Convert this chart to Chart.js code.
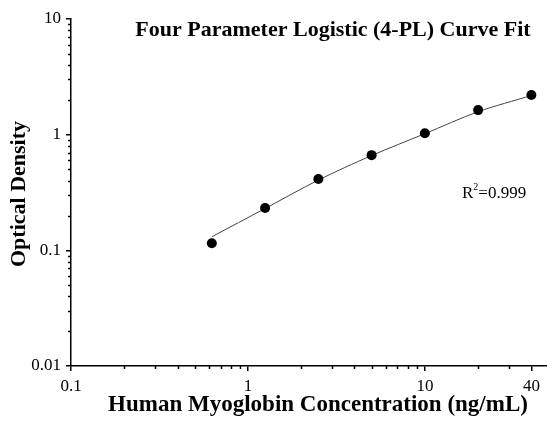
<!DOCTYPE html>
<html>
<head>
<meta charset="utf-8">
<script src="https://cdn.jsdelivr.net/npm/chart.js@4/dist/chart.umd.min.js"></script>
<style>
html,body{margin:0;padding:0;background:#fff;}
#wrap{width:547px;height:430px;}
</style>
</head>
<body>
<div id="wrap"><canvas id="c" width="547" height="430"></canvas></div>
<script>
// ---- data ----
const concentrations = [0.625, 1.25, 2.5, 5, 10, 20, 40];
const odValues = [0.115, 0.232, 0.414, 0.665, 1.03, 1.63, 2.20];
const curveX = [0.625, 1.25, 2.5, 5, 10, 20, 40];
const curveY = [0.131, 0.230, 0.405, 0.660, 1.02, 1.58, 2.18];
const xTickValues = [0.1, 1, 10, 40];
const xTickLabels = ['0.1', '1', '10', '40'];
const yTickValues = [0.01, 0.1, 1, 10];
const yTickLabels = ['0.01', '0.1', '1', '10'];
const xMinorTicks = [0.2,0.3,0.4,0.5,0.6,0.7,0.8,0.9,2,3,4,5,6,7,8,9,20,30,50];
const yMinorTicks = [0.02,0.03,0.04,0.05,0.06,0.07,0.08,0.09,0.2,0.3,0.4,0.5,0.6,0.7,0.8,0.9,2,3,4,5,6,7,8,9];
const chartTitle = 'Four Parameter Logistic (4-PL) Curve Fit';
const xTitle = 'Human Myoglobin Concentration (ng/mL)';
const yTitle = 'Optical Density';
const r2Label = '0.999';

const SERIF = '"Liberation Serif", "Times New Roman", Times, serif';

const decor = {
  id: 'decor',
  afterDraw(chart) {
    const ctx = chart.ctx;
    const xs = chart.scales.x, ys = chart.scales.y;
    const ca = chart.chartArea;
    ctx.save();
    // minor ticks
    ctx.strokeStyle = '#000';
    ctx.lineWidth = 1.5;
    ctx.beginPath();
    xMinorTicks.forEach(v => {
      const px = Math.round(xs.getPixelForValue(v)) + 0.5;
      ctx.moveTo(px, ca.bottom);
      ctx.lineTo(px, ca.bottom + 3);
    });
    yMinorTicks.forEach(v => {
      const py = Math.round(ys.getPixelForValue(v)) + 0.5;
      ctx.moveTo(ca.left, py);
      ctx.lineTo(ca.left - 3, py);
    });
    ctx.stroke();

    ctx.fillStyle = '#000';
    // chart title
    ctx.font = 'bold 22px ' + SERIF;
    ctx.textAlign = 'center';
    ctx.textBaseline = 'alphabetic';
    ctx.fillText(chartTitle, 333, 36);
    // x title
    ctx.font = 'bold 23px ' + SERIF;
    ctx.fillText(xTitle, 318, 411);
    // y title
    ctx.font = 'bold 22px ' + SERIF;
    ctx.save();
    ctx.translate(25, 194);
    ctx.rotate(-Math.PI / 2);
    ctx.fillText(yTitle, 0, 0);
    ctx.restore();
    // R^2
    ctx.font = '17px ' + SERIF;
    ctx.textAlign = 'left';
    let x0 = 462, y0 = 198;
    ctx.fillText('R', x0, y0);
    let w = ctx.measureText('R').width;
    ctx.font = '10px ' + SERIF;
    ctx.fillText('2', x0 + w, y0 - 8);
    let w2 = ctx.measureText('2').width;
    ctx.font = '17px ' + SERIF;
    ctx.fillText('=' + r2Label, x0 + w + w2, y0);
    ctx.restore();
  }
};

new Chart(document.getElementById('c'), {
  type: 'scatter',
  data: {
    datasets: [
      {
        label: 'fit',
        data: curveX.map((x, i) => ({x: x, y: curveY[i]})),
        showLine: true,
        borderColor: '#444',
        borderWidth: 1,
        pointRadius: 0,
        tension: 0.3,
        order: 2
      },
      {
        label: 'standards',
        data: concentrations.map((x, i) => ({x: x, y: odValues[i]})),
        showLine: false,
        pointRadius: 5,
        pointBackgroundColor: '#000',
        pointBorderColor: '#000',
        borderWidth: 0,
        order: 1
      }
    ]
  },
  options: {
    responsive: false,
    animation: false,
    devicePixelRatio: 1,
    layout: {autoPadding: false, padding: {top: 19, right: 0, left: 0, bottom: 0}},
    plugins: {legend: {display: false}, tooltip: {enabled: false}, title: {display: false}},
    scales: {
      x: {
        type: 'logarithmic',
        position: 'bottom',
        min: 0.1,
        max: 49,
        afterBuildTicks: s => { s.ticks = xTickValues.map(v => ({value: v})); },
        afterFit: s => { s.height = 64; },
        ticks: {
          autoSkip: false,
          maxRotation: 0,
          padding: 5,
          color: '#000',
          font: {family: SERIF, size: 17},
          callback: (v) => { const i = xTickValues.indexOf(v); return i >= 0 ? xTickLabels[i] : ''; }
        },
        grid: {drawOnChartArea: false, drawTicks: true, tickLength: 5, color: '#000', lineWidth: 1.5},
        border: {display: true, color: '#000', width: 1.5}
      },
      y: {
        type: 'logarithmic',
        min: 0.01,
        max: 10,
        afterBuildTicks: s => { s.ticks = yTickValues.map(v => ({value: v})); },
        afterFit: s => { s.width = 71; },
        ticks: {
          autoSkip: false,
          padding: 5,
          color: '#000',
          font: {family: SERIF, size: 17},
          callback: (v) => { const i = yTickValues.indexOf(v); return i >= 0 ? yTickLabels[i] : ''; }
        },
        grid: {drawOnChartArea: false, drawTicks: true, tickLength: 5, color: '#000', lineWidth: 1.5},
        border: {display: true, color: '#000', width: 1.5}
      }
    }
  },
  plugins: [decor]
});
</script>
</body>
</html>
